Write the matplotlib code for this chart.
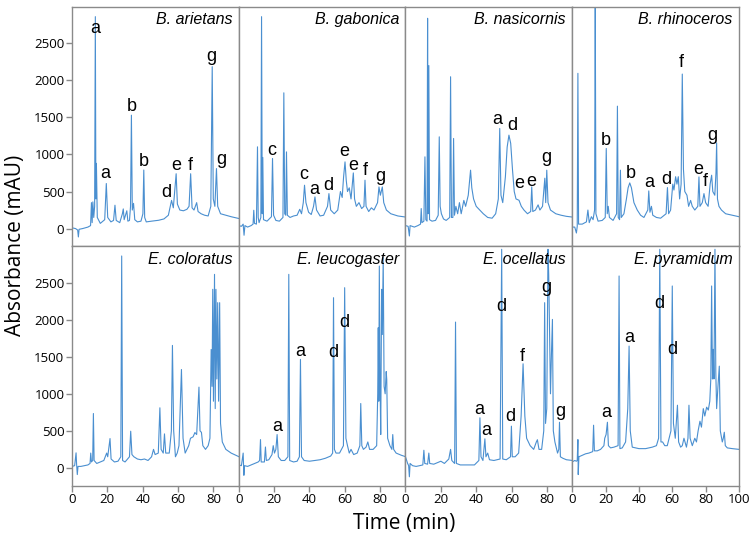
import numpy as np
import matplotlib
matplotlib.use('Agg')
import matplotlib.pyplot as plt

# species names, top row then bottom row
species = ['B. arietans', 'B. gabonica', 'B. nasicornis', 'B. rhinoceros',
           'E. coloratus', 'E. leucogaster', 'E. ocellatus', 'E. pyramidum']

# chromatogram traces: (time min, absorbance mAU)
arietans = [(0, 10), (2, 0), (3.2, -20), (3.6, -113), (4.0, -10), (6, 0), (9, 20), (10.5, 40),
            (11, 350), (11.4, 80), (11.8, 360), (12.3, 150), (12.8, 300), (13.2, 2860), (13.5, 400),
            (13.8, 880), (14.3, 150), (16, 70), (18.5, 120), (19.4, 608), (20.2, 150), (22, 90),
            (23.5, 110), (24.3, 315), (25, 110), (27, 80), (28.5, 200), (29, 265), (29.5, 120),
            (30.5, 200), (31, 240), (31.6, 100), (32.5, 110), (33.1, 300), (33.6, 1530), (34.1, 250),
            (34.8, 340), (35.5, 120), (37, 90), (39, 100), (40.1, 200), (40.6, 790), (41.1, 150),
            (42, 90), (45, 100), (49, 112), (52, 130), (54.5, 180), (56.3, 380), (57.3, 280),
            (58.9, 740), (59.6, 330), (61, 250), (63, 240), (65, 260), (66.2, 300), (67.1, 740),
            (67.9, 280), (69, 250), (70.5, 350), (71.3, 230), (73, 200), (75, 180), (77, 170),
            (78.5, 300), (79.3, 2185), (79.9, 400), (80.8, 300), (81.7, 810), (82.4, 300), (84, 200),
            (87, 180), (90, 160), (94.5, 135)]

gabonica = [(0, 40), (1.5, 30), (2.5, 60), (3.0, -90), (3.5, 40), (5, 20), (7, 40), (8.1, 60),
            (8.5, 247), (8.9, 70), (10, 60), (10.6, 1103), (11.0, 150), (11.5, 80), (12.5, 150),
            (12.9, 2860), (13.3, 200), (13.6, 960), (14.0, 120), (16, 100), (18.5, 160), (19.1, 946),
            (19.7, 180), (21, 110), (23, 100), (25, 150), (25.5, 1832), (26, 200), (26.6, 180),
            (27.0, 1035), (27.5, 180), (29, 150), (31, 170), (33, 180), (34.5, 260), (35.5, 200),
            (36.5, 350), (37.2, 585), (38, 350), (39.5, 220), (41, 190), (42.3, 300), (43.1, 427),
            (44, 250), (46, 170), (48, 180), (50.2, 300), (51, 472), (52, 250), (54, 200), (56, 250),
            (57.5, 500), (58.5, 420), (59.3, 700), (60.1, 900), (60.8, 650), (61.5, 500), (62.5, 550),
            (63.5, 400), (64.8, 751), (65.5, 400), (66.5, 300), (68, 350), (69.5, 270), (70.8, 300),
            (71.4, 653), (72, 300), (73.5, 230), (75, 280), (76.5, 250), (78.5, 350), (79.3, 562),
            (80.1, 450), (81.2, 562), (82, 350), (83.5, 250), (86, 200), (90, 170), (94.5, 155)]

nasicornis = [(0, 40), (1.5, 30), (2.2, -100), (2.6, 40), (5, 20), (7, 40), (8.5, 60), (8.9, 270),
              (9.3, 80), (10.4, 100), (11.0, 968), (11.5, 120), (12.2, 100), (12.5, 2838), (12.8, 200),
              (13.2, 2200), (13.6, 120), (15, 100), (17, 110), (18.5, 180), (19.1, 1238), (19.6, 300),
              (20.3, 200), (21.5, 130), (23, 110), (25.0, 150), (25.5, 2049), (26, 150), (26.8, 150),
              (27.2, 1216), (27.7, 180), (28.5, 300), (29.5, 200), (30.5, 350), (31.5, 200), (33, 380),
              (34, 300), (35.5, 450), (36.8, 788), (37.5, 550), (38.5, 400), (40, 300), (42, 250),
              (44, 200), (46.5, 150), (49, 140), (51, 200), (52.5, 400), (53.3, 1351), (54, 450),
              (55, 350), (56.5, 700), (57.5, 1100), (58.5, 1261), (59.5, 1150), (60.5, 800), (61.5, 500),
              (62.5, 400), (64.2, 382), (65.5, 300), (67, 250), (69, 200), (70.8, 230), (71.4, 562),
              (72, 230), (73.5, 250), (75, 320), (76, 250), (77.5, 300), (78.8, 680), (79.3, 350),
              (79.9, 788), (80.6, 350), (82, 250), (85, 200), (88, 180), (91, 165), (94.5, 155)]

rhinoceros = [(0, 20), (1.5, 20), (2.5, -60), (3.0, 30), (3.4, 2095), (3.8, 60), (6, 60), (8.5, 90),
              (9.4, 250), (10.2, 80), (11.5, 160), (12.5, 120), (13.4, 250), (13.8, 3100), (14.2, 200),
              (15.5, 100), (18, 110), (19.8, 150), (20.4, 1081), (21, 200), (21.6, 300), (22.3, 150),
              (24.5, 110), (26.6, 200), (27.1, 1652), (27.6, 150), (28.4, 120), (28.9, 788), (29.4, 150),
              (31, 200), (32.5, 400), (33.5, 550), (34.5, 616), (35.5, 550), (37, 350), (39, 250),
              (41, 180), (43, 150), (45.3, 250), (45.9, 508), (46.6, 220), (47.5, 300), (48.3, 180),
              (50.5, 150), (53, 140), (56.3, 200), (57.1, 553), (57.8, 200), (59, 250), (60.3, 600),
              (61, 520), (62, 700), (62.8, 600), (63.6, 700), (64.4, 400), (65.3, 600), (66.0, 2085),
              (66.7, 800), (67.5, 500), (68.8, 450), (69.8, 300), (71, 380), (72, 300), (73.5, 250),
              (75.3, 300), (76, 697), (76.6, 300), (78, 350), (79, 472), (80, 350), (81.5, 300),
              (82.7, 600), (83.6, 720), (84.3, 500), (85.5, 450), (86.2, 750), (86.6, 1157), (87.1, 400),
              (88, 300), (89.5, 250), (92, 200), (96, 180), (100, 160)]

coloratus = [(0, 20), (1.5, 30), (2.3, 203), (2.6, 50), (3.0, -90), (3.4, 20), (5, 20), (7, 30),
             (9, 40), (10.2, 60), (10.6, 200), (11.0, 80), (11.7, 100), (12.1, 734), (12.5, 100),
             (14, 60), (16, 80), (18, 100), (19.6, 200), (20.2, 150), (21.5, 396), (22.1, 120), (24, 80),
             (26, 90), (27.6, 150), (28.1, 2860), (28.6, 100), (30, 80), (32.5, 150), (33.2, 495),
             (33.9, 180), (35, 150), (37, 120), (39, 110), (41, 120), (43, 100), (45, 150), (46.1, 250),
             (47, 180), (48.8, 200), (49.7, 811), (50.4, 250), (51.6, 200), (52.3, 459), (53, 200),
             (55, 200), (56.2, 500), (56.8, 1653), (57.5, 500), (58.5, 150), (59.5, 200), (60.5, 300),
             (61.9, 1328), (62.8, 400), (64, 200), (66, 300), (67, 400), (68.5, 420), (69.5, 477),
             (70.5, 450), (71.8, 1090), (72.4, 500), (73.2, 480), (74, 300), (75.5, 250), (77, 300),
             (78, 400), (78.7, 1598), (79.2, 1100), (79.6, 2410), (80.0, 900), (80.6, 2612), (81.0, 800),
             (81.4, 2410), (81.9, 1200), (82.4, 2230), (82.9, 900), (83.5, 2230), (84.0, 600), (85, 350),
             (87, 250), (90, 200), (94.5, 150)]

leucogaster = [(0, 40), (1.5, 30), (2.5, 200), (2.9, -100), (3.3, 30), (5, 20), (7, 40), (9, 60),
               (11, 80), (11.8, 100), (12.3, 382), (12.7, 80), (14.5, 80), (15.1, 282), (15.6, 100),
               (17, 110), (18.8, 180), (19.5, 300), (20.2, 200), (21.0, 250), (21.7, 450), (22.4, 150),
               (24, 100), (26, 100), (27.8, 150), (28.3, 2612), (28.8, 100), (31, 80), (33, 90),
               (34.3, 150), (34.9, 1464), (35.5, 150), (37, 100), (40, 90), (43, 100), (46, 110),
               (49, 130), (52, 160), (53.1, 200), (53.6, 2297), (54.1, 250), (55, 200), (57, 200),
               (59.2, 300), (59.9, 2432), (60.6, 400), (61.5, 300), (62.5, 200), (63.5, 250), (65, 180),
               (67, 200), (68.5, 300), (69, 869), (69.6, 300), (70.5, 250), (72, 280), (73, 350),
               (74, 250), (76, 250), (78, 300), (78.6, 1000), (78.9, 1892), (79.2, 900), (79.5, 2724),
               (79.9, 1200), (80.3, 450), (80.8, 2410), (81.2, 1800), (81.7, 2838), (82.2, 1100),
               (82.8, 1000), (83.4, 1300), (83.7, 1193), (84.2, 400), (85.5, 300), (86.6, 250),
               (87.1, 450), (87.6, 250), (89, 200), (92, 170), (94.5, 150)]

ocellatus = [(0, 150), (1.2, 60), (1.8, 30), (2.2, -120), (2.6, 60), (4, 30), (6, 20), (8, 30),
             (9.8, 40), (10.4, 238), (10.9, 60), (12.5, 50), (13.2, 200), (13.7, 60), (16, 50), (18, 70),
             (20, 90), (22, 60), (24.5, 120), (25.5, 250), (26.2, 100), (27.8, 60), (28.3, 1968),
             (28.8, 60), (31, 40), (35, 40), (39, 40), (41.5, 100), (42.1, 676), (42.7, 150), (43.8, 100),
             (44.9, 392), (45.5, 150), (46.5, 200), (47.5, 110), (50, 100), (53.5, 120), (54.4, 2950),
             (55, 120), (57, 110), (59.4, 150), (59.9, 563), (60.4, 150), (62, 150), (64, 200),
             (65.4, 700), (66.5, 1405), (67.5, 700), (68.5, 400), (70.5, 300), (72.5, 250), (74.0, 350),
             (74.6, 380), (75.5, 250), (77, 250), (78.2, 500), (78.7, 2230), (79.2, 600), (79.9, 800),
             (80.6, 2950), (81.0, 2600), (81.5, 1800), (82, 1000), (82.5, 1500), (83.1, 2004),
             (83.6, 500), (84.5, 350), (86, 200), (86.7, 250), (87.1, 616), (87.6, 150), (89, 130),
             (91, 110), (94.5, 100)]

pyramidum = [(0, 80), (1.5, 100), (2.5, 90), (3.0, 100), (3.4, 382), (3.6, -90), (4.0, 150), (6, 170),
             (8, 190), (10, 200), (12.3, 220), (12.8, 576), (13.3, 230), (15, 230), (17, 250), (19.0, 300),
             (19.5, 400), (20.3, 450), (21.1, 616), (21.7, 300), (23, 270), (25, 280), (27.5, 300),
             (28.1, 2590), (28.6, 260), (30, 270), (32, 350), (33.3, 800), (34.1, 1644), (34.8, 500),
             (36, 280), (40, 260), (44, 260), (48, 280), (50.5, 300), (51.8, 400), (52.5, 2950),
             (53.2, 350), (54.2, 350), (55.5, 300), (57, 300), (59.2, 500), (60.0, 2455), (60.7, 600),
             (61.8, 400), (63.1, 846), (63.8, 350), (65, 280), (66, 300), (67, 400), (68.5, 280),
             (69.4, 400), (70.0, 846), (70.7, 400), (72, 300), (73.5, 400), (74.5, 350), (75.5, 500),
             (76.6, 630), (77.5, 550), (78.6, 800), (79.5, 700), (80.6, 820), (81.6, 780), (82.5, 900),
             (83.1, 1200), (83.6, 2455), (84.1, 1200), (84.6, 1600), (85.0, 1200), (85.6, 2950),
             (86.1, 1300), (86.6, 800), (87.4, 1100), (88.2, 1373), (88.8, 500), (90, 350), (90.6, 400),
             (91.2, 481), (91.8, 300), (93, 270), (96, 260), (100, 250)]

traces = [arietans, gabonica, nasicornis, rhinoceros, coloratus, leucogaster, ocellatus, pyramidum]

# peak letters: (time, absorbance, letter) for each panel
peak_labels = [
    [(13, 2700, 'a'), (18.9, 743, 'a'), (33.6, 1653, 'b'), (40.8, 900, 'b'), (53.6, 481, 'd'),
     (58.8, 855, 'e'), (67.1, 855, 'f'), (79, 2320, 'g'), (84.4, 932, 'g')],
    [(18.9, 1058, 'c'), (36.8, 734, 'c'), (42.5, 527, 'a'), (50.4, 585, 'd'), (59.5, 1035, 'e'),
     (64.8, 855, 'e'), (71.4, 788, 'f'), (80.3, 697, 'g')],
    [(52, 1473, 'a'), (60.4, 1396, 'd'), (64.6, 608, 'e'), (71.4, 639, 'e'), (79.7, 959, 'g')],
    [(20.4, 1184, 'b'), (34.9, 743, 'b'), (45.9, 616, 'a'), (56.5, 662, 'd'), (65.1, 2238, 'f'),
     (75.6, 797, 'e'), (79.6, 630, 'f'), (84.2, 1261, 'g')],
    [],
    [(21.7, 562, 'a'), (34.6, 1576, 'a'), (53.5, 1554, 'd'), (59.9, 1959, 'd')],
    [(41.7, 788, 'a'), (45.5, 504, 'a'), (54.4, 2184, 'd'), (59.5, 697, 'd'), (66.3, 1508, 'f'),
     (79.9, 2432, 'g'), (87.4, 765, 'g')],
    [(20.4, 751, 'a'), (33.9, 1765, 'a'), (52.1, 2220, 'd'), (60, 1599, 'd')],
]

x_max = [94.3, 94.3, 94.3, 100, 94.3, 94.3, 94.3, 100]

plt.rcParams['font.family'] = ['Open Sans', 'DejaVu Sans']
frame = '#8a8a8a'
line_col = '#4a8fd0'

fig, axes = plt.subplots(2, 4, figsize=(7.5, 5.4), dpi=100)
fig.subplots_adjust(left=0.096, right=0.9853, top=0.987, bottom=0.1006, wspace=0, hspace=0)

for i, ax in enumerate(axes.flat):
    t, v = np.array(traces[i]).T
    ax.plot(t, v, color=line_col, lw=0.8)
    ax.set_xlim(0, x_max[i])
    ax.set_ylim(-240, 2990)
    for s in ax.spines.values():
        s.set_color(frame)
        s.set_linewidth(1.0)
    ax.text(0.962, 0.978, species[i], transform=ax.transAxes, ha='right', va='top',
            style='italic', fontsize=11.5, family='Liberation Sans')
    for (pt, pv, letter) in peak_labels[i]:
        ax.text(pt, pv, letter, ha='center', va='center', fontsize=13, family='Liberation Sans')

    row, col = divmod(i, 4)
    ax.tick_params(direction='out', length=4, width=1, color=frame, labelsize=9.5, pad=1.5)
    if col == 0:
        ax.set_yticks([0, 500, 1000, 1500, 2000, 2500])
    else:
        ax.set_yticks([])
    if row == 1:
        ax.set_xticks(np.arange(0, x_max[i] + 0.1, 20))
    else:
        ax.set_xticks([])

fig.text(0.021, 0.546, 'Absorbance (mAU)', rotation=90, ha='center', va='center', fontsize=15)
fig.text(0.539, 0.031, 'Time (min)', ha='center', va='center', fontsize=15)

plt.savefig('out.png', dpi=100)
